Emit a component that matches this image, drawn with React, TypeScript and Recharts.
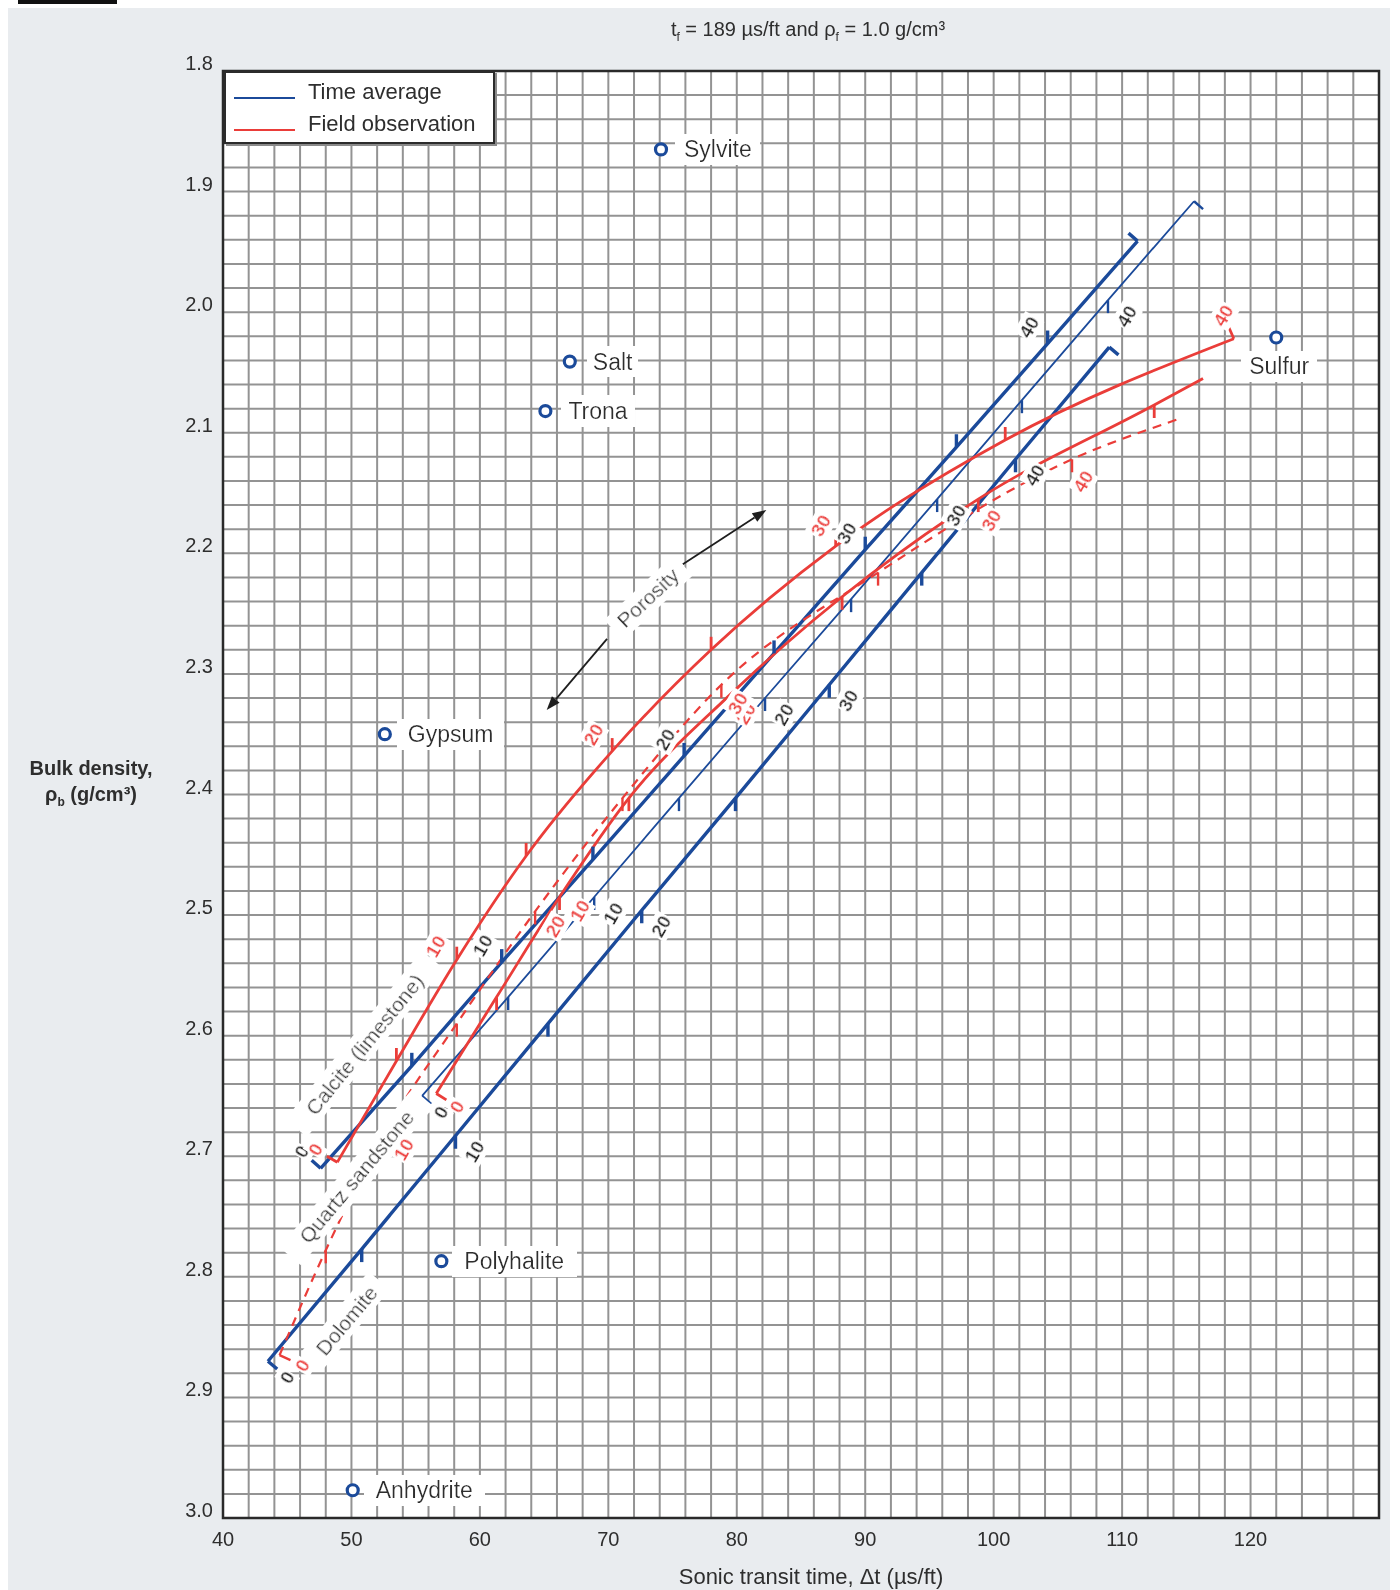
import React from "react";
import {
  CartesianGrid,
  ComposedChart,
  Line,
  ReferenceArea,
  ReferenceDot,
  ReferenceLine,
  Scatter,
  XAxis,
  YAxis,
} from "recharts";

type Pt = { dt: number; rho: number; phi?: number };

// Time-average lines (blue), phi in percent
const CALCITE_TIME_AVG: Pt[] = [
  { dt: 47.6, rho: 2.71, phi: 0 },
  { dt: 54.7, rho: 2.625, phi: 5 },
  { dt: 61.7, rho: 2.539, phi: 10 },
  { dt: 68.8, rho: 2.454, phi: 15 },
  { dt: 75.9, rho: 2.368, phi: 20 },
  { dt: 82.9, rho: 2.283, phi: 25 },
  { dt: 90.0, rho: 2.197, phi: 30 },
  { dt: 97.1, rho: 2.112, phi: 35 },
  { dt: 104.2, rho: 2.026, phi: 40 },
  { dt: 111.2, rho: 1.941, phi: 45 },
];

const SANDSTONE_TIME_AVG: Pt[] = [
  { dt: 55.5, rho: 2.65, phi: 0 },
  { dt: 62.2, rho: 2.568, phi: 5 },
  { dt: 68.9, rho: 2.485, phi: 10 },
  { dt: 75.5, rho: 2.403, phi: 15 },
  { dt: 82.2, rho: 2.32, phi: 20 },
  { dt: 88.9, rho: 2.238, phi: 25 },
  { dt: 95.6, rho: 2.155, phi: 30 },
  { dt: 102.2, rho: 2.073, phi: 35 },
  { dt: 108.9, rho: 1.99, phi: 40 },
  { dt: 115.6, rho: 1.908, phi: 45 },
];

const DOLOMITE_TIME_AVG: Pt[] = [
  { dt: 43.5, rho: 2.87, phi: 0 },
  { dt: 50.8, rho: 2.777, phi: 5 },
  { dt: 58.1, rho: 2.683, phi: 10 },
  { dt: 65.3, rho: 2.59, phi: 15 },
  { dt: 72.6, rho: 2.496, phi: 20 },
  { dt: 79.9, rho: 2.403, phi: 25 },
  { dt: 87.2, rho: 2.309, phi: 30 },
  { dt: 94.4, rho: 2.216, phi: 35 },
  { dt: 101.7, rho: 2.122, phi: 40 },
  { dt: 109.0, rho: 2.029, phi: 45 },
];

// Field observation curves (red)
const CALCITE_FIELD: Pt[] = [
  { dt: 48.9, rho: 2.705, phi: 0 },
  { dt: 53.5, rho: 2.621, phi: 5 },
  { dt: 58.2, rho: 2.537, phi: 10 },
  { dt: 63.6, rho: 2.451, phi: 15 },
  { dt: 70.3, rho: 2.364, phi: 20 },
  { dt: 78.0, rho: 2.28, phi: 25 },
  { dt: 87.7, rho: 2.194, phi: 30 },
  { dt: 100.9, rho: 2.106, phi: 35 },
  { dt: 118.7, rho: 2.022, phi: 40 },
];

const SANDSTONE_FIELD: Pt[] = [
  { dt: 56.6, rho: 2.648, phi: 0 },
  { dt: 61.3, rho: 2.568, phi: 5 },
  { dt: 66.2, rho: 2.485, phi: 10 },
  { dt: 71.6, rho: 2.403, phi: 15 },
  { dt: 79.4, rho: 2.318, phi: 20 },
  { dt: 88.2, rho: 2.236, phi: 25 },
  { dt: 98.8, rho: 2.155, phi: 30 },
  { dt: 112.5, rho: 2.077, phi: 35 },
  { dt: 116.3, rho: 2.055 },
];

const DOLOMITE_FIELD: Pt[] = [
  { dt: 44.4, rho: 2.865, phi: 0 },
  { dt: 48.0, rho: 2.778, phi: 5 },
  { dt: 52.4, rho: 2.684, phi: 10 },
  { dt: 58.2, rho: 2.59, phi: 15 },
  { dt: 64.3, rho: 2.497, phi: 20 },
  { dt: 71.1, rho: 2.403, phi: 25 },
  { dt: 78.8, rho: 2.309, phi: 30 },
  { dt: 91.0, rho: 2.216, phi: 35 },
  { dt: 106.1, rho: 2.122, phi: 40 },
  { dt: 114.3, rho: 2.089 },
];

const MINERALS = [
  { name: "Sylvite", dt: 74.1, rho: 1.865 },
  { name: "Salt", dt: 67.0, rho: 2.041 },
  { name: "Trona", dt: 65.1, rho: 2.082 },
  { name: "Sulfur", dt: 122.0, rho: 2.021 },
  { name: "Gypsum", dt: 52.6, rho: 2.35 },
  { name: "Polyhalite", dt: 57.0, rho: 2.787 },
  { name: "Anhydrite", dt: 50.1, rho: 2.977 },
];

const LITHOLOGY_LABELS = [
  { text: "Calcite (limestone)", dt: 51.0, rho: 2.607 },
  { text: "Quartz sandstone", dt: 50.4, rho: 2.717 },
  { text: "Dolomite", dt: 49.6, rho: 2.836 },
  { text: "Porosity", dt: 73.1, rho: 2.237 },
];

const POROSITY_ARROWS = [
  { fromDt: 69.9, fromRho: 2.271, toDt: 65.2, toRho: 2.33 },
  { fromDt: 75.8, fromRho: 2.209, toDt: 82.3, toRho: 2.164 },
];

const X_LABELS = [40, 50, 60, 70, 80, 90, 100, 110, 120];
const Y_LABELS = [1.8, 1.9, 2.0, 2.1, 2.2, 2.3, 2.4, 2.5, 2.6, 2.7, 2.8, 2.9, 3.0];
const X_GRID = Array.from({ length: 46 }, (_, i) => 40 + 2 * i);
const Y_GRID = Array.from({ length: 61 }, (_, i) => Math.round((1.8 + 0.02 * i) * 100) / 100);

const FONT = '"Liberation Sans", Arial, "DejaVu Sans", sans-serif';
const BLUE = "#1b4a9a";
const RED = "#ea3d39";
const RED_TEXT = "#ee4a46";
const INK = "#2e2e2e";
const PANEL = "#e9ecef";

const ROTATION: Record<string, number> = {
  "Calcite (limestone)": -51,
  "Quartz sandstone": -50,
  Dolomite: -50,
  Porosity: -43,
};

type Series = {
  key: string;
  data: Pt[];
  color: string;
  width: number;
  dash?: string;
  side: "ul" | "lr";
  labelColor: string;
  curve: "linear" | "monotone";
};

const SERIES: Series[] = [
  { key: "calc-ta", data: CALCITE_TIME_AVG, color: BLUE, width: 3.4, side: "ul", labelColor: INK, curve: "linear" },
  { key: "sand-ta", data: SANDSTONE_TIME_AVG, color: BLUE, width: 1.8, side: "lr", labelColor: INK, curve: "linear" },
  { key: "dolo-ta", data: DOLOMITE_TIME_AVG, color: BLUE, width: 3.4, side: "lr", labelColor: INK, curve: "linear" },
  { key: "calc-fo", data: CALCITE_FIELD, color: RED, width: 2.8, side: "ul", labelColor: RED_TEXT, curve: "monotone" },
  { key: "sand-fo", data: SANDSTONE_FIELD, color: RED, width: 2.8, side: "lr", labelColor: RED_TEXT, curve: "monotone" },
  { key: "dolo-fo", data: DOLOMITE_FIELD, color: RED, width: 2.2, dash: "9 7", side: "lr", labelColor: RED_TEXT, curve: "monotone" },
];

function lineAngle(points: any[] | undefined, i: number) {
  if (!points || points.length < 2) return -0.85;
  const a = points[Math.max(0, i - 1)];
  const b = points[Math.min(points.length - 1, i + 1)];
  return Math.atan2(b.y - a.y, b.x - a.x);
}

function tickDot(s: Series) {
  return (p: any) => {
    const { cx, cy, payload, index, points } = p;
    const k = `tk-${s.key}-${index}`;
    if (payload?.phi == null || !Number.isFinite(cx)) return <g key={k} />;
    const sgn = s.side === "ul" ? -1 : 1;
    const isEnd = index === 0 || index === s.data.length - 1;
    let dx = 0;
    let dy = sgn * 13;
    if (isEnd) {
      const a = lineAngle(points, index);
      dx = sgn * -Math.sin(a) * 12;
      dy = sgn * Math.cos(a) * 12;
    }
    return (
      <line key={k} x1={cx} y1={cy} x2={cx + dx} y2={cy + dy} stroke={s.color} strokeWidth={Math.max(s.width, 2.4)} />
    );
  };
}

function labelDot(s: Series) {
  return (p: any) => {
    const { cx, cy, payload, index, points } = p;
    const k = `lb-${s.key}-${index}`;
    if (payload?.phi == null || payload.phi % 10 !== 0 || !Number.isFinite(cx)) return <g key={k} />;
    const a = lineAngle(points, index);
    const sgn = s.side === "ul" ? -1 : 1;
    const tx = cx + sgn * -Math.sin(a) * 25;
    const ty = cy + sgn * Math.cos(a) * 25;
    return (
      <text
        key={k}
        x={tx}
        y={ty}
        transform={`rotate(-60 ${tx} ${ty})`}
        textAnchor="middle"
        dominantBaseline="central"
        fontSize={19}
        fontWeight={700}
        fontFamily={FONT}
        fill={s.labelColor}
        filter="url(#num-box)"
      >
        {payload.phi}
      </text>
    );
  };
}

const Arrow = (p: any) => {
  const { x1, y1, x2, y2 } = p;
  if (![x1, y1, x2, y2].every(Number.isFinite)) return <g />;
  const a = Math.atan2(y2 - y1, x2 - x1);
  const L = 14;
  const W = 5;
  const bx = x2 - L * Math.cos(a);
  const by = y2 - L * Math.sin(a);
  const pts = `${x2},${y2} ${bx + W * Math.sin(a)},${by - W * Math.cos(a)} ${bx - W * Math.sin(a)},${by + W * Math.cos(a)}`;
  return (
    <g>
      <line x1={x1} y1={y1} x2={bx} y2={by} stroke="#1e1e1e" strokeWidth={1.8} />
      <polygon points={pts} fill="#1e1e1e" />
    </g>
  );
};

const RotText = ({ cx, cy, text }: any) => (
  <text
    x={cx}
    y={cy}
    transform={`rotate(${ROTATION[text] ?? 0} ${cx} ${cy})`}
    textAnchor="middle"
    dominantBaseline="central"
    fontSize={21}
    fontFamily={FONT}
    fill={INK}
    filter="url(#label-box)"
  >
    {text}
  </text>
);

const MineralMark = (p: any) => {
  const { cx, cy, payload } = p;
  const below = payload.name === "Sulfur";
  return (
    <g>
      <circle cx={cx} cy={cy} r={5.5} fill="#fff" stroke={BLUE} strokeWidth={3.2} />
      <text
        x={below ? cx + 3 : cx + 23}
        y={below ? cy + 29 : cy}
        textAnchor={below ? "middle" : "start"}
        dominantBaseline="central"
        fontSize={23}
        fontFamily={FONT}
        fill={INK}
        filter="url(#label-box)"
      >
        {payload.name}
      </text>
    </g>
  );
};

const XTick = (p: any) => {
  const v = p.payload?.value;
  if (!X_LABELS.includes(v)) return <g />;
  return (
    <text x={p.x} y={p.y + 21} textAnchor="middle" dominantBaseline="central" fontSize={20} fontFamily={FONT} fill={INK}>
      {v}
    </text>
  );
};

const YTick = (p: any) => {
  const v = p.payload?.value;
  if (!Y_LABELS.some((l) => Math.abs(l - v) < 1e-6)) return <g />;
  return (
    <text x={p.x} y={p.y - 8} textAnchor="end" dominantBaseline="central" fontSize={20} fontFamily={FONT} fill={INK}>
      {v.toFixed(1)}
    </text>
  );
};

export default function App() {
  return (
    <div style={{ position: "relative", width: 1382, height: 1583, background: PANEL, fontFamily: FONT, color: INK }}>
      <div style={{ position: "fixed", left: 18, top: 0, width: 99, height: 4, background: "#111" }} />
      <svg width={0} height={0} style={{ position: "absolute" }}>
        <defs>
          <filter id="label-box" x="-12%" y="-8%" width="124%" height="116%">
            <feFlood floodColor="#ffffff" result="bg" />
            <feMerge>
              <feMergeNode in="bg" />
              <feMergeNode in="SourceGraphic" />
            </feMerge>
          </filter>
          <filter id="num-box" x="-4%" y="-2%" width="108%" height="104%">
            <feFlood floodColor="#ffffff" result="bg" />
            <feMerge>
              <feMergeNode in="bg" />
              <feMergeNode in="SourceGraphic" />
            </feMerge>
          </filter>
        </defs>
      </svg>

      <ComposedChart width={1382} height={1583} margin={{ top: 63, right: 11, bottom: 0, left: 0 }}>
        <CartesianGrid stroke="#939393" strokeWidth={2} fill="#ffffff" fillOpacity={1} />
        <XAxis
          type="number"
          dataKey="dt"
          domain={[40, 130]}
          ticks={X_GRID}
          interval={0}
          tick={XTick}
          tickLine={false}
          axisLine={false}
          tickSize={0}
          tickMargin={0}
          height={73}
          allowDataOverflow
        />
        <YAxis
          type="number"
          dataKey="rho"
          domain={[1.8, 3.0]}
          reversed
          ticks={Y_GRID}
          interval={0}
          tick={YTick}
          tickLine={false}
          axisLine={false}
          tickSize={0}
          tickMargin={10}
          width={215}
          allowDataOverflow
        />
        <ReferenceArea x1={40} x2={130} y1={1.8} y2={3.0} fill="none" stroke="#2a2a2a" strokeWidth={2.5} />
        {SERIES.map((s) => (
          <Line
            key={s.key}
            data={s.data}
            dataKey="rho"
            type={s.curve}
            stroke={s.color}
            strokeWidth={s.width}
            strokeDasharray={s.dash}
            dot={tickDot(s)}
            activeDot={false}
            legendType="none"
            isAnimationActive={false}
          />
        ))}
        {POROSITY_ARROWS.map((a, i) => (
          <ReferenceLine
            key={`arrow-${i}`}
            segment={[
              { x: a.fromDt, y: a.fromRho },
              { x: a.toDt, y: a.toRho },
            ]}
            shape={Arrow}
          />
        ))}
        {LITHOLOGY_LABELS.map((l) => (
          <ReferenceDot
            key={l.text}
            x={l.dt}
            y={l.rho}
            r={0}
            shape={(p: any) => <RotText cx={p.cx} cy={p.cy} text={l.text} />}
          />
        ))}
        {SERIES.map((s) => (
          <Line
            key={`${s.key}-labels`}
            data={s.data}
            dataKey="rho"
            type={s.curve}
            stroke="none"
            dot={labelDot(s)}
            activeDot={false}
            legendType="none"
            isAnimationActive={false}
          />
        ))}
        <Scatter data={MINERALS} dataKey="rho" shape={MineralMark} isAnimationActive={false} legendType="none" />
      </ComposedChart>

      {/* legend */}
      <div
        style={{
          position: "absolute",
          left: 216,
          top: 63,
          width: 267,
          height: 69,
          background: "#fff",
          border: "2.5px solid #2b2b2b",
          boxShadow: "2px 2px 0 #8a8a8a",
          fontSize: 22,
        }}
      >
        <div style={{ position: "absolute", left: 8, top: 24, width: 61, borderTop: `2.5px solid ${BLUE}` }} />
        <div style={{ position: "absolute", left: 82, top: 6, lineHeight: "26px", whiteSpace: "nowrap" }}>Time average</div>
        <div style={{ position: "absolute", left: 8, top: 56, width: 61, borderTop: `2.5px solid ${RED}` }} />
        <div style={{ position: "absolute", left: 82, top: 38, lineHeight: "26px", whiteSpace: "nowrap" }}>Field observation</div>
      </div>

      {/* title */}
      <div
        style={{
          position: "absolute",
          left: 800,
          top: 23,
          transform: "translate(-50%, -50%)",
          fontSize: 20,
          whiteSpace: "nowrap",
        }}
      >
        t<sub style={{ fontSize: 12 }}>f</sub> = 189 µs/ft and ρ<sub style={{ fontSize: 12 }}>f</sub> = 1.0 g/cm³
      </div>

      {/* y axis title */}
      <div
        style={{
          position: "absolute",
          left: 83,
          top: 777,
          transform: "translate(-50%, -50%)",
          fontSize: 20,
          fontWeight: 700,
          textAlign: "center",
          lineHeight: "26px",
          whiteSpace: "nowrap",
        }}
      >
        Bulk density,
        <br />
        ρ<sub style={{ fontSize: 12 }}>b</sub> (g/cm³)
      </div>

      {/* x axis title */}
      <div
        style={{
          position: "absolute",
          left: 803,
          top: 1569,
          transform: "translate(-50%, -50%)",
          fontSize: 22,
          whiteSpace: "nowrap",
        }}
      >
        Sonic transit time, Δt (µs/ft)
      </div>
    </div>
  );
}
